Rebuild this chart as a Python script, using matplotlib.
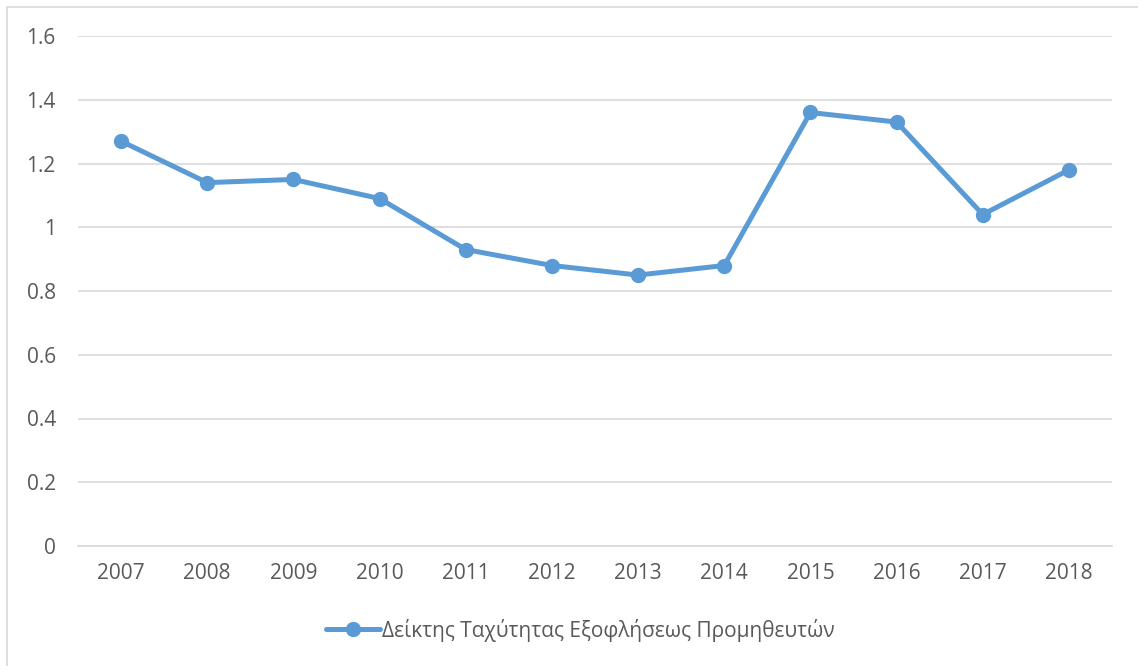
import matplotlib

matplotlib.use("Agg")
import matplotlib.pyplot as plt
from matplotlib.patches import Rectangle

# supplier payment speed index, per year
years = ["2007", "2008", "2009", "2010", "2011", "2012",
         "2013", "2014", "2015", "2016", "2017", "2018"]
index_values = [1.27, 1.14, 1.15, 1.09, 0.93, 0.88,
                0.85, 0.88, 1.36, 1.33, 1.04, 1.18]
series_name = "Δείκτης Ταχύτητας Εξοφλήσεως Προμηθευτών"

blue = "#5B9BD5"
text_grey = "#595959"

plt.rcParams["font.family"] = ["Open Sans", "DejaVu Sans"]

fig = plt.figure(figsize=(11.38, 6.66), dpi=100)
ax = fig.add_axes([78 / 1138, 1 - 546 / 666, (1112 - 78) / 1138, (546 - 36) / 666])

x = range(len(years))
ax.plot(x, index_values, color=blue, linewidth=3.6, marker="o",
        markersize=10, solid_capstyle="round", label=series_name, zorder=3)

ax.set_xlim(-0.5, len(years) - 0.5)
ax.set_ylim(0, 1.6)
ax.set_yticks([0, 0.2, 0.4, 0.6, 0.8, 1.0, 1.2, 1.4, 1.6])
ax.set_yticklabels(["0", "0.2", "0.4", "0.6", "0.8", "1", "1.2", "1.4", "1.6"])
ax.set_xticks(list(x))
ax.set_xticklabels(years)
ax.grid(axis="y", color="#D9D9D9", linewidth=1.2)
ax.set_axisbelow(True)
for side in ["top", "right", "left"]:
    ax.spines[side].set_visible(False)
ax.spines["bottom"].set_color("#D9D9D9")
ax.spines["bottom"].set_linewidth(1.2)
ax.tick_params(length=0, labelsize=15, colors=text_grey)
ax.tick_params(axis="y", pad=16)
ax.tick_params(axis="x", pad=12)

leg = fig.legend(loc="center", bbox_to_anchor=(0.51, 1 - 630 / 666), frameon=False,
                 fontsize=15, handlelength=2.6, handletextpad=0.1)
for t in leg.get_texts():
    t.set_color(text_grey)

# chart frame
fig.patches.append(Rectangle((7 / 1138, -0.05), 1.2, 1 - 7 / 666 + 0.05,
                             transform=fig.transFigure, fill=False,
                             edgecolor="#D9D9D9", linewidth=1.2))

fig.savefig("out.png", dpi=100)
